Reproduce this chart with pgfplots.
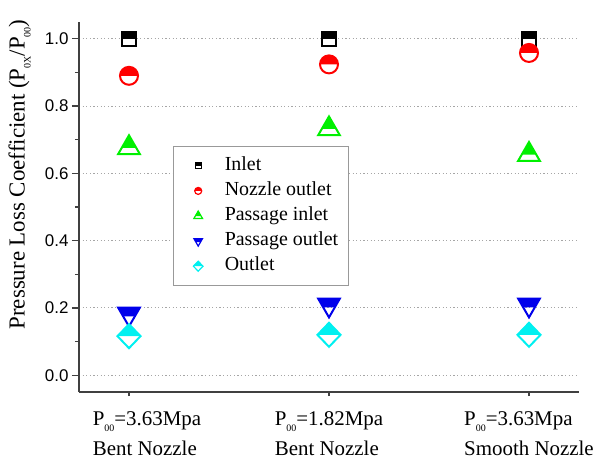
\documentclass[border=0pt]{standalone}
\usepackage{fontspec}
\setmainfont{Liberation Serif}
\setsansfont{Liberation Sans}
\usepackage{pgfplots}
\pgfplotsset{compat=1.18}

\pgfdeclareplotmark{hsquare}{%
  \pgfpathrectangle{\pgfpoint{-\pgfplotmarksize}{0pt}}{\pgfpoint{2\pgfplotmarksize}{\pgfplotmarksize}}%
  \pgfusepathqfill
  \pgfpathrectangle{\pgfpoint{-\pgfplotmarksize}{-\pgfplotmarksize}}{\pgfpoint{2\pgfplotmarksize}{2\pgfplotmarksize}}%
  \pgfusepathqstroke}
\pgfdeclareplotmark{hcircle}{%
  \pgfpathmoveto{\pgfpoint{\pgfplotmarksize}{0pt}}%
  \pgfpatharc{0}{180}{\pgfplotmarksize}%
  \pgfpathclose\pgfusepathqfill
  \pgfpathcircle{\pgfpointorigin}{\pgfplotmarksize}\pgfusepathqstroke}
\pgfdeclareplotmark{htriangle}{%
  \pgfpathmoveto{\pgfpoint{0pt}{\pgfplotmarksize}}%
  \pgfpathlineto{\pgfpoint{-0.57735\pgfplotmarksize}{0pt}}%
  \pgfpathlineto{\pgfpoint{0.57735\pgfplotmarksize}{0pt}}%
  \pgfpathclose\pgfusepathqfill
  \pgfpathmoveto{\pgfpoint{0pt}{\pgfplotmarksize}}%
  \pgfpathlineto{\pgfpoint{-0.866\pgfplotmarksize}{-0.5\pgfplotmarksize}}%
  \pgfpathlineto{\pgfpoint{0.866\pgfplotmarksize}{-0.5\pgfplotmarksize}}%
  \pgfpathclose\pgfusepathqstroke}
\pgfdeclareplotmark{htriangledown}{%
  \pgfpathmoveto{\pgfpoint{-0.866\pgfplotmarksize}{0.5\pgfplotmarksize}}%
  \pgfpathlineto{\pgfpoint{0.866\pgfplotmarksize}{0.5\pgfplotmarksize}}%
  \pgfpathlineto{\pgfpoint{0.4619\pgfplotmarksize}{-0.2\pgfplotmarksize}}%
  \pgfpathlineto{\pgfpoint{-0.4619\pgfplotmarksize}{-0.2\pgfplotmarksize}}%
  \pgfpathclose\pgfusepathqfill
  \pgfpathmoveto{\pgfpoint{0pt}{-\pgfplotmarksize}}%
  \pgfpathlineto{\pgfpoint{-0.866\pgfplotmarksize}{0.5\pgfplotmarksize}}%
  \pgfpathlineto{\pgfpoint{0.866\pgfplotmarksize}{0.5\pgfplotmarksize}}%
  \pgfpathclose\pgfusepathqstroke}
\pgfdeclareplotmark{hdiamond}{%
  \pgfpathmoveto{\pgfpoint{-0.96\pgfplotmarksize}{0pt}}%
  \pgfpathlineto{\pgfpoint{0pt}{\pgfplotmarksize}}%
  \pgfpathlineto{\pgfpoint{0.96\pgfplotmarksize}{0pt}}%
  \pgfpathclose\pgfusepathqfill
  \pgfpathmoveto{\pgfpoint{0pt}{\pgfplotmarksize}}%
  \pgfpathlineto{\pgfpoint{0.96\pgfplotmarksize}{0pt}}%
  \pgfpathlineto{\pgfpoint{0pt}{-\pgfplotmarksize}}%
  \pgfpathlineto{\pgfpoint{-0.96\pgfplotmarksize}{0pt}}%
  \pgfpathclose\pgfusepathqstroke}

\definecolor{mblue}{RGB}{0,0,235}
\definecolor{mgreen}{RGB}{0,240,0}
\definecolor{mcyan}{RGB}{0,240,240}

\newcommand{\sub}[1]{\raisebox{-6bp}{\fontsize{10}{10}\selectfont #1}}

\begin{document}
\begin{tikzpicture}
\begin{axis}[
  name=ax, at={(0,0)}, anchor=south west,
  scale only axis, width=500bp, height=370bp,
  xmin=-0.25, xmax=2.25, ymin=-0.05, ymax=1.05,
  axis x line*=bottom, axis y line*=left,
  axis line style={-, line width=1.6bp, black!75},
  xtick={0,1,2},
  xticklabels={{\hspace*{36bp}P\sub{00}=3.63Mpa\\\hspace*{36bp}Bent Nozzle},{P\sub{00}=1.82Mpa\\Bent Nozzle},{P\sub{00}=3.63Mpa\\Smooth Nozzle}},
  xticklabel style={align=left, font=\fontsize{21}{30}\selectfont, yshift=-9bp},
  ytick={0,0.2,0.4,0.6,0.8,1.0},
  minor ytick={0.1,0.3,0.5,0.7,0.9},
  yticklabel style={font=\fontsize{17}{20}\sffamily, /pgf/number format/.cd, fixed, fixed zerofill, precision=1, assume math mode=true},
  tick align=outside, major tick length=7bp, minor tick length=4bp,
  xtick style={/pgfplots/major tick length=4bp},
  tick style={line width=1.2bp, black!75},
  ymajorgrids,
  grid style={line width=1bp, gray!70, dash pattern=on 1.2bp off 2.4bp},
  ylabel={Pressure Loss Coefficient (P\sub{0X}/P\sub{00})},
  ylabel style={font=\fontsize{23}{25}\selectfont, at={(axis description cs:-0.092,0.588)}, anchor=south, inner sep=2bp},
  legend style={at={(rel axis cs:0.188,0.665)}, anchor=north west,
    draw=gray!80, line width=1.2bp, inner xsep=8bp, inner ysep=8bp,
    font=\fontsize{20}{22}\selectfont,
    nodes={inner sep=2bp, text height=14bp, text depth=4.5bp},
    row sep=2.6bp},
  legend cell align=left,
  legend image code/.code={\draw[mark repeat=2,mark phase=2,#1] plot coordinates {(0bp,0bp)(16bp,0bp)(32bp,0bp)}; \path (0bp,0bp) (40bp,0bp);},
]
\addplot[only marks, mark=hsquare, mark size=7bp, color=black, mark options={solid, line width=2bp},
  legend image post style={mark size=3bp, mark options={solid, line width=1.2bp}}]
  coordinates {(0,1.0) (1,1.0) (2,1.0)};
\addlegendentry{Inlet}
\addplot[only marks, mark=hcircle, mark size=9bp, color=red, mark options={solid, line width=2bp},
  legend image post style={mark size=3.5bp, mark options={solid, line width=1.2bp}}]
  coordinates {(0,0.89) (1,0.924) (2,0.958)};
\addlegendentry{Nozzle outlet}
\addplot[only marks, mark=htriangle, mark size=12.5bp, color=mgreen, mark options={solid, line width=2bp},
  legend image post style={mark size=5bp, mark options={solid, line width=1.2bp}}]
  coordinates {(0,0.676) (1,0.732) (2,0.656)};
\addlegendentry{Passage inlet}
\addplot[only marks, mark=htriangledown, mark size=12.5bp, color=mblue, mark options={solid, line width=2bp},
  legend image post style={mark size=5bp, mark options={solid, line width=1.2bp}}]
  coordinates {(0,0.182) (1,0.209) (2,0.209)};
\addlegendentry{Passage outlet}
\addplot[only marks, mark=hdiamond, mark size=12bp, color=mcyan, mark options={solid, line width=2bp},
  legend image post style={mark size=5bp, mark options={solid, line width=1.2bp}}]
  coordinates {(0,0.116) (1,0.12) (2,0.12)};
\addlegendentry{Outlet}
\end{axis}
\pgfresetboundingbox
\path[use as bounding box] (ax.south west) ++(-79bp,-67bp) rectangle ++(597bp,459bp);
\end{tikzpicture}
\end{document}
